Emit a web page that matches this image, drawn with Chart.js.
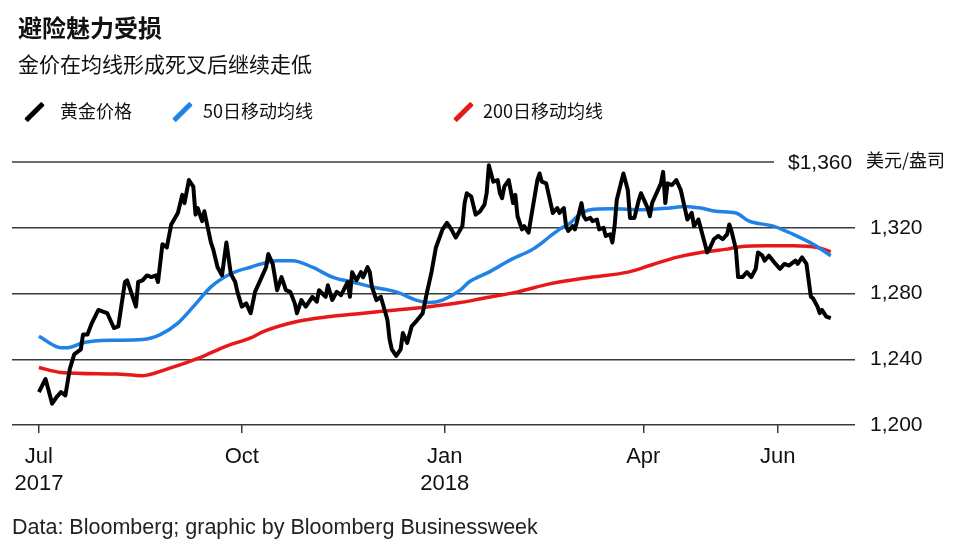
<!DOCTYPE html>
<html>
<head>
<meta charset="utf-8">
<script src="https://cdn.jsdelivr.net/npm/chart.js@4.4.1/dist/chart.umd.min.js"></script>
<style>
  body { margin: 0; background: #fff; }
  #wrap { position: relative; width: 962px; height: 551px; overflow: hidden; font-family: "Noto Sans CJK SC", sans-serif; color: #111; }
  #chartBox { position: absolute; left: 0; top: 0; width: 962px; height: 551px; }
  .title { position: absolute; left: 18px; top: 15px; font-size: 24px; line-height: 24px; font-weight: bold; }
  .subtitle { position: absolute; left: 18px; top: 53px; font-size: 21px; line-height: 21px; }
  .legend-item { position: absolute; top: 101px; font-size: 18px; line-height: 18px; }
  .swatch { position: absolute; width: 5px; height: 24px; top: 100px; transform: rotate(45deg); border-radius: 1px; }
  .source { position: absolute; left: 12px; top: 517px; font-family: "Liberation Sans", Arial, sans-serif; font-size: 21.5px; line-height: 21.5px; color: #222; }
</style>
</head>
<body>
<div id="wrap">
  <div id="chartBox"><canvas id="gold"></canvas></div>
  <div class="title">避险魅力受损</div>
  <div class="subtitle">金价在均线形成死叉后继续走低</div>
  <div class="swatch" style="left:32px; background:#000;"></div>
  <div class="legend-item" style="left:60px;">黄金价格</div>
  <div class="swatch" style="left:180px; background:#1f82e6;"></div>
  <div class="legend-item" style="left:203px;">50日移动均线</div>
  <div class="swatch" style="left:461px; background:#e81818;"></div>
  <div class="legend-item" style="left:483px;">200日移动均线</div>
  <div class="source">Data: Bloomberg; graphic by Bloomberg Businessweek</div>
</div>
<script>
// days counted from 1 Jul 2017
const tickDays = [0, 92, 184, 274, 335];
const tickLabels = [["Jul", "2017"], "Oct", ["Jan", "2018"], "Apr", "Jun"];
const yTicks = [1200, 1240, 1280, 1320, 1360];
const unitLabel = "美元/盎司";

// gold price
const priceDays = [0, 3, 6, 8, 10, 12, 14, 16, 19, 20, 22, 24, 27, 29, 31, 34, 36, 39, 40, 44,
  45, 47, 49, 51, 53, 54, 56, 58, 60, 63, 65, 66, 68, 70, 71, 72, 74, 75, 78, 79,
  81, 83, 85, 87, 89, 90, 92, 94, 96, 98, 101, 103, 104, 106, 108, 110, 112, 114, 116, 117,
  119, 121, 124, 126, 127, 130, 131, 133, 135, 137, 140, 141, 142, 144, 146, 147, 149, 150, 151, 153,
  155, 158, 159, 160, 162, 164, 165, 167, 169, 171, 174, 176, 178, 180, 183, 185, 187, 189, 192, 193,
  194, 196, 198, 200, 202, 203, 204, 206, 208, 209, 210, 211, 213, 215, 216, 217, 219, 220, 222, 223,
  226, 227, 228, 230, 232, 233, 235, 236, 238, 239, 240, 242, 243, 244, 246, 247, 248, 250, 251, 253,
  254, 256, 257, 259, 260, 261, 262, 265, 267, 268, 270, 272, 273, 275, 276, 277, 278, 280, 282, 283,
  284, 285, 287, 289, 291, 293, 294, 296, 297, 299, 301, 303, 304, 306, 308, 310, 312, 313, 314, 316,
  317, 319, 321, 323, 325, 326, 328, 329, 331, 334, 336, 338, 340, 343, 344, 346, 348, 350, 351, 353,
  354, 355, 357, 359];
const priceValues = [1220, 1228, 1213, 1217, 1220, 1218, 1234, 1243, 1246, 1255, 1255, 1262, 1270, 1269, 1268, 1259, 1260, 1287, 1288, 1272,
  1287, 1288, 1291, 1290, 1291, 1287, 1310, 1308, 1322, 1329, 1340, 1335, 1349, 1345, 1328, 1332, 1324, 1330, 1311, 1307,
  1296, 1291, 1311, 1292, 1287, 1281, 1272, 1274, 1268, 1281, 1290, 1296, 1304, 1298, 1282, 1290, 1282, 1281, 1274, 1268,
  1276, 1272, 1278, 1275, 1282, 1278, 1285, 1276, 1281, 1279, 1287, 1278, 1293, 1288, 1293, 1290, 1296, 1293, 1284, 1276,
  1278, 1264, 1252, 1246, 1242, 1246, 1256, 1250, 1260, 1263, 1268, 1281, 1293, 1308, 1319, 1323, 1319, 1314, 1321, 1335,
  1341, 1339, 1328, 1330, 1334, 1341, 1358, 1348, 1349, 1341, 1338, 1345, 1349, 1335, 1340, 1327, 1319, 1321, 1317, 1325,
  1349, 1353, 1348, 1347, 1335, 1329, 1332, 1329, 1332, 1321, 1318, 1321, 1319, 1324, 1335, 1327, 1325, 1326, 1324, 1325,
  1319, 1320, 1315, 1316, 1311, 1321, 1337, 1353, 1343, 1326, 1326, 1337, 1341, 1335, 1332, 1327, 1335, 1341, 1347, 1354,
  1335, 1347, 1346, 1349, 1343, 1331, 1325, 1329, 1321, 1325, 1315, 1305, 1307, 1313, 1315, 1313, 1316, 1322, 1318, 1307,
  1290, 1290, 1293, 1290, 1295, 1305, 1303, 1300, 1303, 1298, 1295, 1298, 1297, 1300, 1298, 1302, 1298, 1278, 1277, 1272,
  1268, 1270, 1266, 1265];

// 50-day moving average
const ma50Days = [0, 10, 13, 20, 32, 47, 55, 63, 70, 78, 87, 96, 108, 115, 124, 133, 142, 151, 162, 171,
  177, 183, 191, 195, 204, 214, 224, 232, 236, 241, 245, 250, 259, 274, 286, 293, 300, 307, 316, 322,
  333, 342, 351, 359];
const ma50Values = [1254, 1247, 1247, 1250, 1251.5, 1252, 1255, 1262, 1272, 1284, 1292, 1296, 1300, 1300, 1296, 1290, 1287, 1284, 1281, 1276,
  1274.5, 1276, 1282, 1287, 1293, 1300.6, 1307, 1315, 1319, 1323, 1328, 1331, 1331.5, 1331, 1332, 1333, 1332, 1330, 1329, 1324,
  1321, 1316, 1310, 1303];

// 200-day moving average
const ma200Days = [0, 10, 35, 47, 58, 73, 85, 96, 102, 117, 132, 147, 162, 177, 191, 201, 217, 232, 251, 267,
  278, 289, 300, 312, 318, 330, 342, 353, 359];
const ma200Values = [1235, 1232, 1231, 1230, 1234, 1241, 1248, 1253, 1257, 1263, 1266, 1268, 1270, 1272, 1274.5, 1277, 1281, 1286, 1290, 1293,
  1297.5, 1302, 1305, 1307, 1308.5, 1309, 1309, 1308, 1305.5];

const gridColor = "#3a3a3a";
const latinFont = '"Liberation Sans", Arial, sans-serif';

function toPoints(days, values) {
  return days.map((d, i) => ({ x: d, y: values[i] }));
}

// top gridline is shorter and carries the $ label and unit
const topLinePlugin = {
  id: "topLine",
  beforeDatasetsDraw(chart) {
    const { ctx, chartArea, scales } = chart;
    const top = yTicks[yTicks.length - 1];
    const py = scales.y.getPixelForValue(top);
    ctx.save();
    ctx.strokeStyle = gridColor;
    ctx.lineWidth = 1.5;
    ctx.beginPath();
    ctx.moveTo(chartArea.left, py);
    ctx.lineTo(chartArea.right - 81, py);
    ctx.stroke();
    ctx.fillStyle = "#111";
    ctx.textBaseline = "middle";
    ctx.textAlign = "left";
    ctx.font = "21px " + latinFont;
    ctx.fillText("$" + top.toLocaleString("en-US"), chartArea.right - 67, py + 1);
    ctx.font = '18px "Noto Sans CJK SC"';
    ctx.fillText(unitLabel, chartArea.right + 11, py - 2);
    ctx.restore();
  }
};

new Chart(document.getElementById("gold"), {
  type: "line",
  data: {
    datasets: [
      {
        label: "黄金价格",
        data: toPoints(priceDays, priceValues),
        borderColor: "#000",
        borderWidth: 4,
        pointRadius: 0,
        tension: 0,
        borderJoinStyle: "round",
        order: 1
      },
      {
        label: "50日移动均线",
        data: toPoints(ma50Days, ma50Values),
        borderColor: "#1f82e6",
        borderWidth: 3.5,
        pointRadius: 0,
        cubicInterpolationMode: "monotone",
        order: 2
      },
      {
        label: "200日移动均线",
        data: toPoints(ma200Days, ma200Values),
        borderColor: "#e81818",
        borderWidth: 3.5,
        pointRadius: 0,
        cubicInterpolationMode: "monotone",
        order: 3
      }
    ]
  },
  options: {
    responsive: true,
    maintainAspectRatio: false,
    animation: false,
    layout: { padding: { left: 12, top: 162, right: 0, bottom: 0 } },
    plugins: {
      legend: { display: false },
      title: { display: false },
      tooltip: { enabled: false }
    },
    scales: {
      x: {
        type: "linear",
        min: -12.2,
        max: 370,
        afterFit(scale) { scale.height = 126; },
        afterBuildTicks(scale) {
          scale.ticks = tickDays.map(v => ({ value: v }));
        },
        border: { display: false },
        grid: {
          drawOnChartArea: false,
          drawTicks: true,
          tickLength: 8,
          color: gridColor,
          lineWidth: 1.5
        },
        ticks: {
          autoSkip: false,
          maxRotation: 0,
          padding: 11,
          color: "#111",
          font: { family: latinFont, size: 22, lineHeight: 1.22 },
          callback(value) {
            const i = tickDays.indexOf(value);
            return i >= 0 ? tickLabels[i] : "";
          }
        }
      },
      y: {
        position: "right",
        min: 1200,
        max: 1360,
        afterFit(scale) { scale.width = 107; },
        afterBuildTicks(scale) {
          scale.ticks = yTicks.map(v => ({ value: v }));
        },
        border: { display: false },
        grid: {
          drawTicks: false,
          lineWidth: 1.5,
          color: ctx => (ctx.tick && ctx.tick.value === yTicks[yTicks.length - 1]) ? "rgba(0,0,0,0)" : gridColor
        },
        ticks: {
          padding: 15,
          color: "#111",
          font: { family: latinFont, size: 21 },
          callback(value) {
            return value === yTicks[yTicks.length - 1] ? "" : value.toLocaleString("en-US");
          }
        }
      }
    }
  },
  plugins: [topLinePlugin]
});
</script>
</body>
</html>
